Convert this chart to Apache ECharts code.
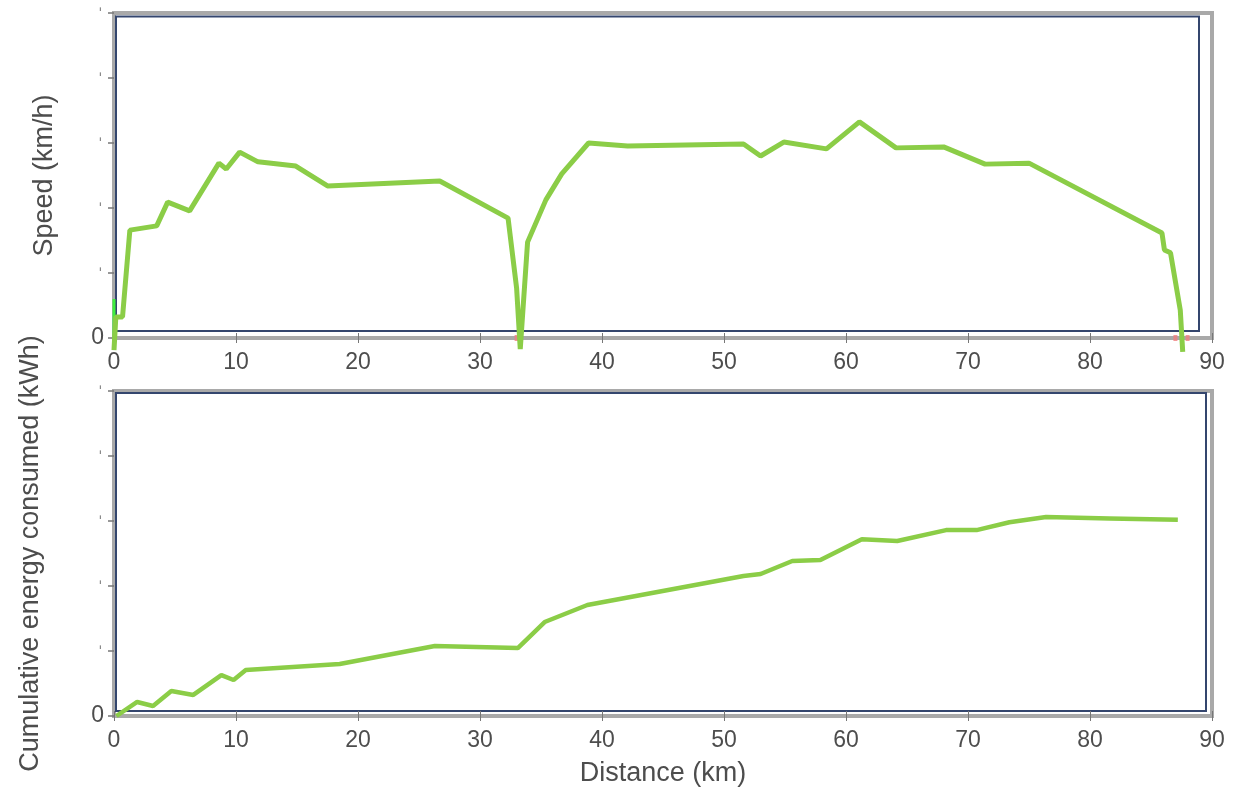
<!DOCTYPE html>
<html lang="en">
<head>
    <meta charset="UTF-8">
    <title>Speed and cumulative energy</title>
    <script src="https://cdn.jsdelivr.net/npm/echarts@6.0.0/dist/echarts.min.js"></script>
    <style>
        body { padding: 0; margin: 0; background: #fff; }
        #chart { width: 1243px; height: 801px; }
    </style>
</head>
<body>
    <div id="chart"></div>

    <script>
        // values
        const distTicks = [0, 10, 20, 30, 40, 50, 60, 70, 80, 90];

        const speedKm = [0, 0.15, 0.7, 1.3, 3.5, 4.4, 6.2, 8.6, 9.2, 10.3, 11.8, 14.9, 17.5, 26.7,
            32.3, 33.0, 33.3, 33.9, 35.4, 36.7, 38.9, 42.1, 51.6, 53.0, 54.9, 58.4, 61.1, 64.1,
            68.0, 71.4, 75.0, 85.9, 86.1, 86.6, 87.4, 87.6];
        const speedVal = [-3.7, 6.5, 6.5, 33.2, 34.5, 41.8, 39.1, 53.8, 52.0, 57.2, 54.2, 52.9, 46.8, 48.3,
            36.9, 15.4, -3.4, 29.5, 42.5, 50.5, 60.0, 59.1, 59.7, 56.0, 60.3, 58.2, 66.5, 58.5,
            58.8, 53.5, 53.8, 32.3, 27.1, 26.2, 8.6, -4.3];

        const energyKm = [0.2, 1.9, 3.2, 4.7, 6.5, 8.8, 9.8, 10.8, 18.5, 26.3, 33.1, 35.3, 38.8,
            51.6, 53.0, 55.6, 57.9, 61.3, 64.2, 68.2, 70.7, 73.4, 76.4, 81.6, 87.2];
        const energyVal = [0, 1.08, 0.77, 1.92, 1.62, 3.15, 2.77, 3.54, 4.0, 5.38, 5.23, 7.23, 8.54,
            10.77, 10.92, 11.92, 12.0, 13.6, 13.46, 14.3, 14.3, 14.9, 15.3, 15.2, 15.1];

        const startMark = [[0, 0], [0, 12]];
        const stopMarks = [[33.0, 0], [87.0, 0], [88.0, 0]];

        const zip = (a, b) => a.map((v, i) => [v, b[i]]);

        const chart = echarts.init(document.getElementById('chart'));

        const lineGreen = '#8bcd47';
        const frameGray = '#a9a9a9';
        const navy = '#34466e';
        const txt = '#4d4d4d';
        const tickFont = { fontFamily: 'Liberation Sans', fontSize: 23, color: txt };
        const nameFont = { fontFamily: 'Liberation Sans', fontSize: 27, color: txt };

        function xMain(grid, withLabels, name) {
            return {
                type: 'value', gridIndex: grid, min: 0, max: 90, interval: 10,
                position: 'bottom',
                name: name || '', nameLocation: 'middle', nameGap: 44, nameTextStyle: nameFont,
                axisLine: { show: false },
                axisTick: { show: true, inside: true, length: 5, lineStyle: { color: '#777' } },
                axisLabel: Object.assign({ show: withLabels, margin: 13 }, tickFont),
                splitLine: { show: false }
            };
        }
        function xTop(grid) {
            return {
                type: 'value', gridIndex: grid, min: 0, max: 90, interval: 10, position: 'top',
                axisLine: { show: false },
                axisTick: { show: true, inside: true, length: 5, lineStyle: { color: '#777' } },
                axisLabel: { show: false }, splitLine: { show: false }
            };
        }
        function yMain(grid, max, interval, name, gap) {
            return {
                type: 'value', gridIndex: grid, min: 0, max: max, interval: interval, position: 'left',
                name: name, nameLocation: 'middle', nameGap: gap, nameTextStyle: nameFont,
                axisLine: { show: false },
                axisTick: { show: false },
                axisLabel: {
                    margin: 10,
                    // only the zero label is readable, the others show as faint marks
                    formatter: v => (v === 0 ? '{z|0}' : '{t|\u02C8}'),
                    rich: {
                        z: { fontFamily: 'Liberation Sans', fontSize: 23, color: txt },
                        t: { fontFamily: 'Liberation Sans', fontSize: 22, color: '#8a8a8a', padding: [10, 0, 0, 0] }
                    }
                },
                splitLine: { show: false }
            };
        }
        function yRight(grid, max, interval) {
            return {
                type: 'value', gridIndex: grid, min: 0, max: max, interval: interval, position: 'right',
                axisLine: { show: false },
                axisTick: { show: true, inside: true, length: 6, lineStyle: { color: '#777', width: 1.5 } },
                axisLabel: { show: false }, splitLine: { show: false }
            };
        }
        function hidden(grid) {
            return { type: 'value', gridIndex: grid, show: false, min: 0, max: 1 };
        }

        chart.setOption({
            animation: false,
            grid: [
                // outer gray frames that carry the scales
                { left: 114, top: 13, width: 1098, height: 325, show: true, borderColor: frameGray, borderWidth: 4, backgroundColor: 'transparent' },
                { left: 114, top: 391, width: 1098, height: 325, show: true, borderColor: frameGray, borderWidth: 4, backgroundColor: 'transparent' },
                // inner navy boxes
                { left: 116, top: 16.5, right: 44, height: 314.5, show: true, borderColor: navy, borderWidth: 2, backgroundColor: 'transparent' },
                { left: 116, top: 393, right: 37, height: 318, show: true, borderColor: navy, borderWidth: 2, backgroundColor: 'transparent' }
            ],
            xAxis: [
                xMain(0, true), xTop(0),
                xMain(1, true, 'Distance (km)'), xTop(1),
                hidden(2), hidden(3)
            ],
            yAxis: [
                yMain(0, 100, 20, 'Speed (km/h)', 56), yRight(0, 100, 20),
                yMain(1, 25, 5, 'Cumulative energy consumed (kWh)', 70), yRight(1, 25, 5),
                hidden(2), hidden(3)
            ],
            series: [
                {
                    name: 'Speed', type: 'line', xAxisIndex: 0, yAxisIndex: 0,
                    data: zip(speedKm, speedVal), showSymbol: false, clip: false, z: 5,
                    lineStyle: { color: lineGreen, width: 5 }
                },
                {
                    name: 'Start', type: 'line', xAxisIndex: 0, yAxisIndex: 0,
                    data: startMark, showSymbol: false, clip: false, z: 4,
                    lineStyle: { color: '#3ff03f', width: 3 }
                },
                {
                    name: 'Stops', type: 'scatter', xAxisIndex: 0, yAxisIndex: 0,
                    data: stopMarks, symbol: 'rect', symbolSize: [4, 6], z: 4,
                    itemStyle: { color: '#f08080' }
                },
                {
                    name: 'Energy', type: 'line', xAxisIndex: 2, yAxisIndex: 2,
                    data: zip(energyKm, energyVal), showSymbol: false, clip: false, z: 5,
                    lineStyle: { color: lineGreen, width: 4.5 }
                }
            ]
        });

        window.addEventListener('resize', function () {
            chart.resize();
        });
    </script>
</body>
</html>
